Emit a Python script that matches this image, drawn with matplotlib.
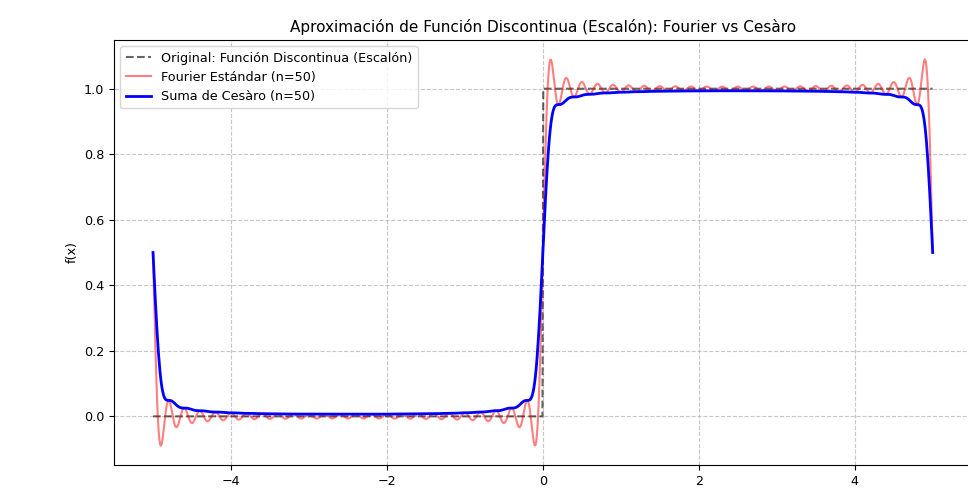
import numpy as np
import matplotlib.pyplot as plt

# Problem parameters (step function on [-L, L], jump at x = 0)
L = 5.0
n_terms = 50
low_level = 0.0
high_level = 1.0
n_samples = 1000

x = np.linspace(-L, L, n_samples)
f_original = np.where(x < 0, low_level, high_level)

# Fourier coefficients of the step: a0/2 = mean, b_k = (1 - (-1)^k) / (k*pi)
a0_half = (low_level + high_level) / 2
k = np.arange(1, n_terms + 1)
b_k = (high_level - low_level) * (1 - (-1.0) ** k) / (k * np.pi)
sin_terms = np.sin(np.outer(k, x) * np.pi / L)

fourier = a0_half + (b_k[:, None] * sin_terms).sum(axis=0)

# Cesaro (Fejer) mean of partial sums S_0..S_{n-1}
weights = np.clip(1 - k / n_terms, 0, None)
cesaro = a0_half + ((weights * b_k)[:, None] * sin_terms).sum(axis=0)

plt.rcParams["font.size"] = 9.2

fig = plt.figure(figsize=(9.68, 4.9), dpi=100)
ax = fig.add_axes([0.1178, 0.051, 0.886, 0.8673])

ax.plot(x, f_original, "k--", alpha=0.6, linewidth=1.5,
        label="Original: Función Discontinua (Escalón)")
ax.plot(x, fourier, color="red", alpha=0.5, linewidth=1.5,
        label="Fourier Estándar (n=50)")
ax.plot(x, cesaro, color="blue", linewidth=2,
        label="Suma de Cesàro (n=50)")

ax.set_title("Aproximación de Función Discontinua (Escalón): Fourier vs Cesàro",
             fontsize=11)
ax.set_ylabel("f(x)")
ax.grid(True, linestyle="--", alpha=0.7)
ax.legend(loc="upper left")

fig.savefig("out.png", dpi=100)
